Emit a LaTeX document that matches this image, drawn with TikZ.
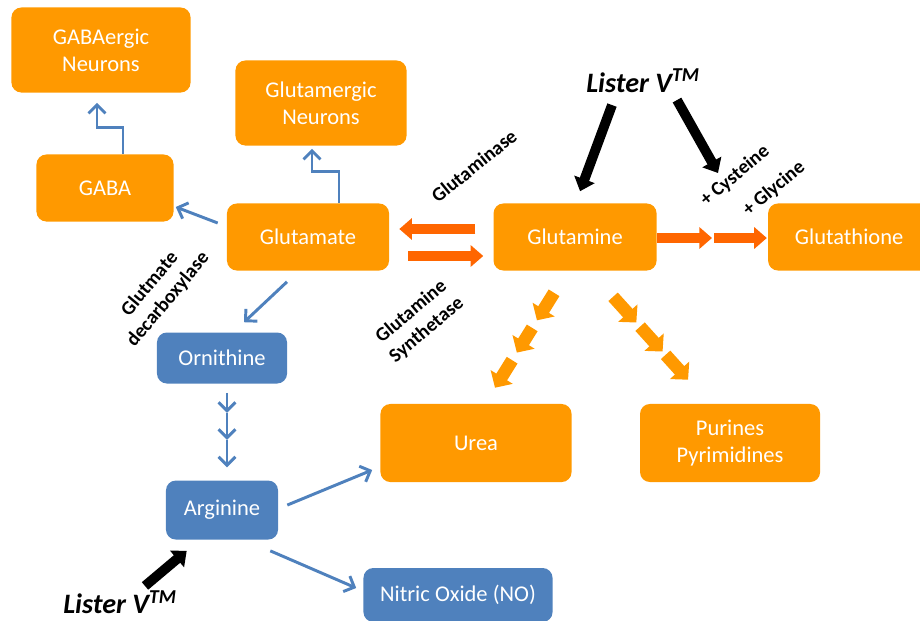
\documentclass[tikz,border=0pt]{standalone}
\usepackage{fontspec}
\setmainfont{Carlito}
\usepackage{tikz}
\usetikzlibrary{arrows.meta}
\definecolor{boxorange}{RGB}{255,153,0}
\definecolor{boxblue}{RGB}{79,129,189}
\definecolor{hotorange}{RGB}{255,102,0}

\begin{document}
\begin{tikzpicture}[x=0.025cm,y=-0.025cm,
	>={Straight Barb[length=6pt,width=12pt]}]
	\tikzset{
		box/.style={rounded corners=7pt,text=white,align=center,inner sep=0pt,
			font=\fontsize{16}{19}\selectfont},
		obox/.style={box,fill=boxorange},
		bbox/.style={box,fill=boxblue},
		flow/.style={->,draw=boxblue,line width=2.1pt},
		fatarrow/.style={line width=7pt,-{Triangle[length=9pt,width=15pt]}},
		stepped/.style={line width=9pt,draw=boxorange,-{Triangle[length=9pt,width=18pt]}},
		enzyme/.style={font=\bfseries\fontsize{14}{17}\selectfont,align=center},
		lister/.style={inner sep=0pt,font=\bfseries\itshape\fontsize{20}{24}\selectfont}
	}
	\useasboundingbox (0,0) rectangle (920,620);
	
	\node[obox,minimum width=4.475cm,minimum height=2.125cm] (gabaergic) at (101,50) {GABAergic\\Neurons};
	\node[obox,minimum width=4.275cm,minimum height=2.125cm] (glutamergic) at (321,103) {Glutamergic\\Neurons};
	\node[obox,minimum width=3.425cm,minimum height=1.675cm] (gaba) at (105,188) {GABA};
	\node[obox,minimum width=4.05cm,minimum height=1.675cm] (glutamate) at (308,237) {Glutamate};
	\node[obox,minimum width=4.075cm,minimum height=1.675cm] (glutamine) [right of=glutamate,node distance=6.675cm] {Glutamine};
	\node[obox,minimum width=4.05cm,minimum height=1.675cm] (glutathione) [right of=glutamine,node distance=6.85cm] {Glutathione};
	\node[bbox,minimum width=3.25cm,minimum height=1.275cm] (ornithine) at (222,358) {Ornithine};
	\node[bbox,minimum width=2.8cm,minimum height=1.475cm] (arginine) [below of=ornithine,node distance=3.8cm] {Arginine};
	\node[obox,minimum width=4.775cm,minimum height=1.95cm] (urea) at (476,443) {Urea};
	\node[obox,minimum width=4.5cm,minimum height=1.95cm] (purines) [right of=urea,node distance=6.35cm] {Purines\\Pyrimidines};
	\node[bbox,minimum width=4.725cm,minimum height=1.35cm] (no) at (458,595) {Nitric Oxide (NO)};
	
	\node[lister] (listertop) at (643,81) {Lister V\textsuperscript{TM}};
	\node[lister] (listerbot) at (120,602) {Lister V\textsuperscript{TM}};
	\coordinate (plus) at (713,238);
	
	\node[enzyme,rotate=39] (glutaminase) at (474,166) {Glutaminase};
	\node[enzyme,rotate=40] (synthetase) at (419,321) {Glutamine\\Synthetase};
	\node[enzyme,rotate=50] (decarb) at (159,292) {Glutmate\\decarboxylase};
	\node[enzyme,rotate=40] (cysteine) at (735,176) {+ Cysteine};
	\node[enzyme,rotate=40] (glycine) at (774,189) {+ Glycine};
	
	% blue pathway
	\draw[flow] ([shift={(18,0)}]gaba.north) -- ++(0,-27) -| ([shift={(-4,10)}]gabaergic.south);
	\draw[flow] ([shift={(31,0)}]glutamate.north) -- ++(0,-32) -| ([shift={(-9,3)}]glutamergic.south);
	\draw[flow] ([shift={(-9,-14)}]glutamate.west) -- ([shift={(2,19)}]gaba.east);
	\draw[flow] ([shift={(-21,11)}]glutamate.south) -- ([shift={(22,-10)}]ornithine.north);
	\draw[flow] ([shift={(5,9)}]ornithine.south) -- ++(0,20) coordinate (orn1);
	\draw[flow] (orn1) -- ++(0,27) coordinate (orn2);
	\draw[flow] (orn2) -- ([shift={(5,-13)}]arginine.north);
	\draw[flow] ([shift={(9,-5)}]arginine.east) -- ([shift={(-8,27)}]urea.west);
	\draw[flow] ([shift={(-8,11)}]arginine.south east) -- ([shift={(-7,-7)}]no.west);
	
	% glutaminase / synthetase
	\draw[fatarrow,draw=hotorange] ([shift={(-18,-8)}]glutamine.west) -- ([shift={(10,-8)}]glutamate.east);
	\draw[fatarrow,draw=hotorange] ([shift={(19,19)}]glutamate.east) -- ([shift={(-10,19)}]glutamine.west);
	\draw[fatarrow,draw=hotorange] ([shift={(0,1)}]glutamine.east) -- ([shift={(-1,0)}]plus);
	\draw[fatarrow,draw=hotorange] ([shift={(1,0)}]plus) -- ([shift={(-1,1)}]glutathione.west);
	
	% stepped arrows
	\path ([shift={(-21,22)}]glutamine.south) -- ([shift={(19,-16)}]urea.north)
		coordinate[pos=0] (u0) coordinate[pos=.29] (u1) coordinate[pos=.37] (u2)
		coordinate[pos=.63] (u3) coordinate[pos=.71] (u4) coordinate[pos=1] (u5);
	\path ([shift={(38,26)}]glutamine.south) -- ([shift={(-42,-24)}]purines.north)
		coordinate[pos=0] (p0) coordinate[pos=.31] (p1) coordinate[pos=.36] (p2)
		coordinate[pos=.66] (p3) coordinate[pos=.70] (p4) coordinate[pos=1] (p5);
	\draw[stepped] (u0) -- (u1);
	\draw[stepped] (u2) -- (u3);
	\draw[stepped] (u4) -- (u5);
	\draw[stepped] (p0) -- (p1);
	\draw[stepped] (p2) -- (p3);
	\draw[stepped] (p4) -- (p5);
	
	% Lister V
	\draw[fatarrow,draw=black] ([shift={(-31,12)}]listertop.south) -- ([shift={(5,-12)}]glutamine.north);
	\draw[fatarrow,draw=black] ([shift={(34,7)}]listertop.south) -- ([shift={(5,-65)}]plus);
	\draw[fatarrow,draw=black] ([shift={(25,-4)}]listerbot.north) -- ([shift={(21,11)}]arginine.south west);
	
\end{tikzpicture}
\end{document}
